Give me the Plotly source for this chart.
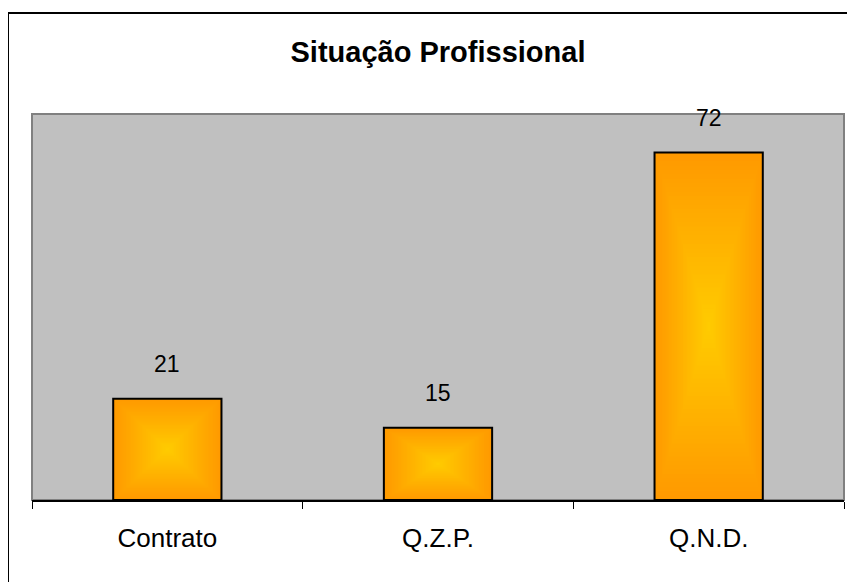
"""
Situação Profissional - gráfico de barras com gradiente laranja
"""
import plotly.graph_objects as go

categorias = ["Contrato", "Q.Z.P.", "Q.N.D."]
valores = [21, 15, 72]

FONT = "Liberation Sans, Arial, sans-serif"
COR_BORDA = (255, 153, 0)   # laranja nas bordas
COR_CENTRO = (255, 204, 0)  # amarelo no centro
LARGURA = 0.40
N_CAMADAS = 40

# a página tem margem de 8px no body
W, H = 847, 574
ML, MR, MT, MB = 24, 11, 106, 82


def _mistura(t):
    r = [round(a + (b - a) * t) for a, b in zip(COR_BORDA, COR_CENTRO)]
    return f"rgb({r[0]},{r[1]},{r[2]})"


fig = go.Figure()

# gradiente "do centro": camadas retangulares cada vez menores
for i in range(N_CAMADAS):
    f = 1 - i / N_CAMADAS
    fig.add_trace(go.Bar(
        x=categorias,
        y=[v * f for v in valores],
        base=[v * (1 - f) / 2 for v in valores],
        width=LARGURA * f,
        marker=dict(color=_mistura(i / N_CAMADAS), line=dict(width=0)),
        hoverinfo="skip",
    ))

# contorno das barras
fig.add_trace(go.Bar(
    x=categorias,
    y=valores,
    width=LARGURA,
    marker=dict(color="rgba(0,0,0,0)", line=dict(color="black", width=2)),
    hovertemplate="%{x}: %{y}<extra></extra>",
))

annotations = [
    dict(x=c, y=v, text=str(v), showarrow=False, yanchor="middle", yshift=35,
         font=dict(family=FONT, size=23, color="black"))
    for c, v in zip(categorias, valores)
]

pw = W - ML - MR
ph = H - MT - MB

fig.update_layout(
    title=dict(text="<b>Situação Profissional</b>", x=0.5, xref="paper",
               y=1 - 44 / H, yanchor="middle",
               font=dict(family=FONT, size=29, color="black")),
    barmode="overlay",
    showlegend=False,
    width=W, height=H,
    margin=dict(l=ML, r=MR, t=MT, b=MB),
    plot_bgcolor="#C0C0C0",
    paper_bgcolor="white",
    xaxis=dict(
        showline=True, linecolor="black", linewidth=2,
        ticks="outside", ticklen=7, tickcolor="black", tickwidth=1,
        tickson="boundaries", ticklabelstandoff=14,
        tickfont=dict(family=FONT, size=26, color="black"),
        showgrid=False,
    ),
    yaxis=dict(range=[0, 80], visible=False, showgrid=False),
    annotations=annotations,
    shapes=[
        # borda da área do gráfico
        dict(type="rect", xref="paper", yref="paper", x0=0, x1=1, y0=0, y1=1,
             line=dict(color="#808080", width=2), layer="below"),
        # moldura externa
        dict(type="rect", xref="paper", yref="paper",
             x0=-24 / pw, x1=1.2, y0=-0.5, y1=1 + 101 / ph,
             line=dict(color="black", width=2), fillcolor="rgba(0,0,0,0)"),
    ],
)

fig.write_html("out.html")
